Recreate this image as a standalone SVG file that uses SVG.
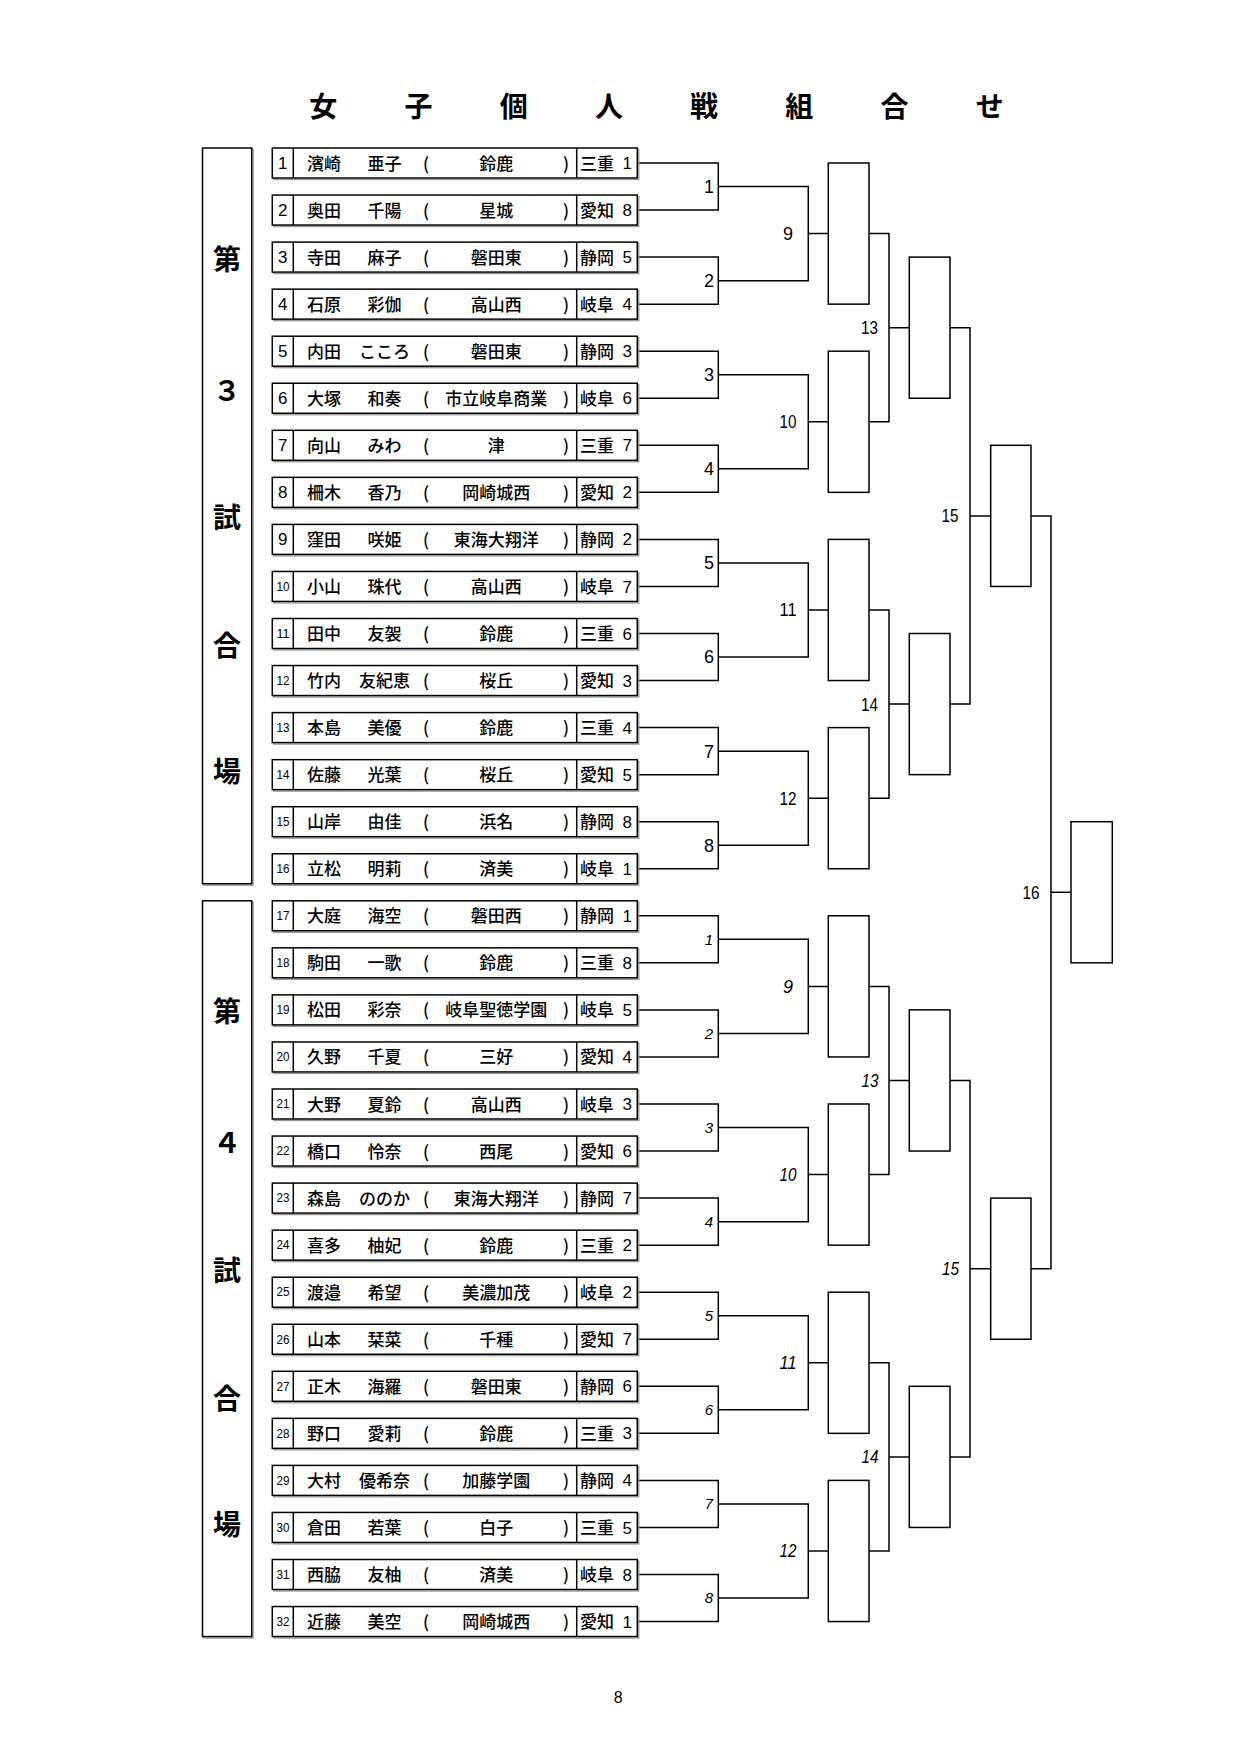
<svg xmlns="http://www.w3.org/2000/svg" xmlns:xlink="http://www.w3.org/1999/xlink" width="1240" height="1753" viewBox="0 0 1240 1753">
<style>
.rb{fill:#fff;stroke:#000;stroke-width:1.5}
.sh{fill:none;stroke:#999;stroke-width:1.3}
.ln{fill:none;stroke:#000;stroke-width:1.5}
.jp{font-family:"Noto Sans CJK JP","Noto Sans CJK SC",sans-serif;font-size:17px;font-weight:500;text-anchor:middle;fill:#000}
.d{font-family:"Liberation Sans",Arial,sans-serif;font-size:17px;fill:#000}
.nn{font-family:"Liberation Sans",Arial,sans-serif;font-size:17px;text-anchor:middle;fill:#000}
.ns{font-size:12px}
.sd{text-anchor:end}
.lb{font-family:"Liberation Sans",Arial,sans-serif;font-size:18px;text-anchor:middle;fill:#000}
.it{font-style:italic}
.s15{font-size:15px}
.ttl{font-family:"Noto Sans CJK JP","Noto Sans CJK SC",sans-serif;font-size:28px;font-weight:bold;text-anchor:middle;fill:#000}
.side{font-family:"Noto Sans CJK JP","Noto Sans CJK SC",sans-serif;font-size:28px;font-weight:bold;text-anchor:middle;fill:#000}
</style>
<defs>
<g id="frame"><rect class="sh" x="273.8" y="1.5" width="365" height="30"/><rect class="rb" x="272.3" y="0" width="365" height="30"/><path class="ln" d="M293.3 0V30M576.7 0V30"/></g>
</defs>
<rect width="1240" height="1753" fill="#fff"/>
<g id="title">
<text class="ttl" x="323.3" y="116.6">女</text><text class="ttl" x="418.5" y="116.6">子</text><text class="ttl" x="513.7" y="116.6">個</text><text class="ttl" x="608.9" y="116.6">人</text><text class="ttl" x="704.1" y="116.6">戦</text><text class="ttl" x="799.3" y="116.6">組</text><text class="ttl" x="894.5" y="116.6">合</text><text class="ttl" x="989.7" y="116.6">せ</text>
</g>
<g id="venue3">
<rect class="sh" x="204" y="149.5" width="49.2" height="735.75"/>
<rect class="rb" x="202.5" y="148" width="49.2" height="735.75"/>
<text class="side" x="227" y="269.6">第</text><text class="side" x="227" y="400.6">３</text><text class="side" x="227" y="528.2">試</text><text class="side" x="227" y="655.8">合</text><text class="side" x="227" y="782.4">場</text>
</g>
<g id="venue4">
<rect class="sh" x="204" y="902.3" width="49.2" height="735.75"/>
<rect class="rb" x="202.5" y="900.8" width="49.2" height="735.75"/>
<text class="side" x="227" y="1022.4">第</text><text class="side" x="227" y="1153.4">４</text><text class="side" x="227" y="1281">試</text><text class="side" x="227" y="1408.6">合</text><text class="side" x="227" y="1535.2">場</text>
</g>
<g id="connectors" class="ln">
<path d="M637.3 163H718.3V210.05H637.3M637.3 257.1H718.3V304.15H637.3M637.3 351.2H718.3V398.25H637.3M637.3 445.3H718.3V492.35H637.3M637.3 539.4H718.3V586.45H637.3M637.3 633.5H718.3V680.55H637.3M637.3 727.6H718.3V774.65H637.3M637.3 821.7H718.3V868.75H637.3M637.3 915.8H718.3V962.85H637.3M637.3 1009.9H718.3V1056.95H637.3M637.3 1104H718.3V1151.05H637.3M637.3 1198.1H718.3V1245.15H637.3M637.3 1292.2H718.3V1339.25H637.3M637.3 1386.3H718.3V1433.35H637.3M637.3 1480.4H718.3V1527.45H637.3M637.3 1574.5H718.3V1621.55H637.3"/>
<path d="M718.3 186.53H808.3V280.63H718.3M808.3 233.58H828.3M718.3 374.73H808.3V468.83H718.3M808.3 421.78H828.3M718.3 562.93H808.3V657.03H718.3M808.3 609.98H828.3M718.3 751.13H808.3V845.23H718.3M808.3 798.18H828.3M718.3 939.33H808.3V1033.43H718.3M808.3 986.38H828.3M718.3 1127.53H808.3V1221.63H718.3M808.3 1174.58H828.3M718.3 1315.73H808.3V1409.83H718.3M808.3 1362.78H828.3M718.3 1503.93H808.3V1598.03H718.3M808.3 1550.98H828.3"/>
<path d="M869 233.58H889V421.78H869M889 327.68H909.3M869 609.98H889V798.18H869M889 704.08H909.3M869 986.38H889V1174.58H869M889 1080.48H909.3M869 1362.78H889V1550.98H869M889 1456.88H909.3"/>
<path d="M950 327.68H970V704.08H950M970 515.88H990.7M950 1080.48H970V1456.88H950M970 1268.68H990.7"/>
<path d="M1031 515.88H1051V1268.68H1031M1051 892.28H1071"/>
</g>
<g id="boxes3">
<g id="a-m9"><rect class="rb" x="828.3" y="163" width="40.7" height="141.15"/></g>
<g id="a-m10"><rect class="rb" x="828.3" y="351.2" width="40.7" height="141.15"/></g>
<g id="a-m11"><rect class="rb" x="828.3" y="539.4" width="40.7" height="141.15"/></g>
<g id="a-m12"><rect class="rb" x="828.3" y="727.6" width="40.7" height="141.15"/></g>
<g id="a-m13"><rect class="rb" x="909.3" y="257.1" width="40.7" height="141.15"/></g>
<g id="a-m14"><rect class="rb" x="909.3" y="633.5" width="40.7" height="141.15"/></g>
<g id="a-m15"><rect class="rb" x="990.7" y="445.3" width="40.3" height="141.15"/></g>
<g id="m16"><rect class="rb" x="1071" y="821.7" width="41.3" height="141.15"/></g>
</g>
<g id="boxes4">
<g id="b-m9"><rect class="rb" x="828.3" y="915.8" width="40.7" height="141.15"/></g>
<g id="b-m10"><rect class="rb" x="828.3" y="1104" width="40.7" height="141.15"/></g>
<g id="b-m11"><rect class="rb" x="828.3" y="1292.2" width="40.7" height="141.15"/></g>
<g id="b-m12"><rect class="rb" x="828.3" y="1480.4" width="40.7" height="141.15"/></g>
<g id="b-m13"><rect class="rb" x="909.3" y="1009.9" width="40.7" height="141.15"/></g>
<g id="b-m14"><rect class="rb" x="909.3" y="1386.3" width="40.7" height="141.15"/></g>
<g id="b-m15"><rect class="rb" x="990.7" y="1198.1" width="40.3" height="141.15"/></g>
</g>
<g id="labels3" class="lb">
<text x="709" y="192.9">1</text><text x="709" y="287">2</text><text x="709" y="381.1">3</text><text x="709" y="475.2">4</text><text x="709" y="569.3">5</text><text x="709" y="663.4">6</text><text x="709" y="757.5">7</text><text x="709" y="851.6">8</text>
<text x="788" y="240">9</text><text x="788" y="428.2" textLength="17" lengthAdjust="spacingAndGlyphs">10</text><text x="788" y="616.4" textLength="17" lengthAdjust="spacingAndGlyphs">11</text><text x="788" y="804.6" textLength="17" lengthAdjust="spacingAndGlyphs">12</text>
<text x="869.5" y="334.1" textLength="17" lengthAdjust="spacingAndGlyphs">13</text><text x="869.5" y="710.5" textLength="17" lengthAdjust="spacingAndGlyphs">14</text>
<text x="950" y="522.3" textLength="17" lengthAdjust="spacingAndGlyphs">15</text>
<text x="1031" y="898.7" textLength="17" lengthAdjust="spacingAndGlyphs">16</text>
</g>
<g id="labels4" class="lb it">
<text class="s15" x="709" y="944.7">1</text><text class="s15" x="709" y="1038.8">2</text><text class="s15" x="709" y="1132.9">3</text><text class="s15" x="709" y="1227">4</text><text class="s15" x="709" y="1321.1">5</text><text class="s15" x="709" y="1415.2">6</text><text class="s15" x="709" y="1509.3">7</text><text class="s15" x="709" y="1603.4">8</text>
<text x="788" y="992.8">9</text><text x="788" y="1181" textLength="17" lengthAdjust="spacingAndGlyphs">10</text><text x="788" y="1369.2" textLength="17" lengthAdjust="spacingAndGlyphs">11</text><text x="788" y="1557.4" textLength="17" lengthAdjust="spacingAndGlyphs">12</text>
<text x="870" y="1086.9" textLength="17" lengthAdjust="spacingAndGlyphs">13</text><text x="870" y="1463.3" textLength="17" lengthAdjust="spacingAndGlyphs">14</text>
<text x="950.5" y="1275.1" textLength="17" lengthAdjust="spacingAndGlyphs">15</text>
</g>
<g id="players">
<g id="p1" transform="translate(0 148)"><use xlink:href="#frame"/><text class="nn" x="282.8" y="21.1">1</text><text class="jp" y="21.5"><tspan x="324">濱崎</tspan><tspan x="384.5">亜子</tspan><tspan x="426">(</tspan><tspan x="496.3">鈴鹿</tspan><tspan x="566">)</tspan><tspan x="597">三重</tspan></text><text class="d sd" x="632" y="21.1">1</text></g>
<g id="p2" transform="translate(0 195.05)"><use xlink:href="#frame"/><text class="nn" x="282.8" y="21.1">2</text><text class="jp" y="21.5"><tspan x="324">奥田</tspan><tspan x="384.5">千陽</tspan><tspan x="426">(</tspan><tspan x="496.3">星城</tspan><tspan x="566">)</tspan><tspan x="597">愛知</tspan></text><text class="d sd" x="632" y="21.1">8</text></g>
<g id="p3" transform="translate(0 242.1)"><use xlink:href="#frame"/><text class="nn" x="282.8" y="21.1">3</text><text class="jp" y="21.5"><tspan x="324">寺田</tspan><tspan x="384.5">麻子</tspan><tspan x="426">(</tspan><tspan x="496.3">磐田東</tspan><tspan x="566">)</tspan><tspan x="597">静岡</tspan></text><text class="d sd" x="632" y="21.1">5</text></g>
<g id="p4" transform="translate(0 289.15)"><use xlink:href="#frame"/><text class="nn" x="282.8" y="21.1">4</text><text class="jp" y="21.5"><tspan x="324">石原</tspan><tspan x="384.5">彩伽</tspan><tspan x="426">(</tspan><tspan x="496.3">高山西</tspan><tspan x="566">)</tspan><tspan x="597">岐阜</tspan></text><text class="d sd" x="632" y="21.1">4</text></g>
<g id="p5" transform="translate(0 336.2)"><use xlink:href="#frame"/><text class="nn" x="282.8" y="21.1">5</text><text class="jp" y="21.5"><tspan x="324">内田</tspan><tspan x="384.5">こころ</tspan><tspan x="426">(</tspan><tspan x="496.3">磐田東</tspan><tspan x="566">)</tspan><tspan x="597">静岡</tspan></text><text class="d sd" x="632" y="21.1">3</text></g>
<g id="p6" transform="translate(0 383.25)"><use xlink:href="#frame"/><text class="nn" x="282.8" y="21.1">6</text><text class="jp" y="21.5"><tspan x="324">大塚</tspan><tspan x="384.5">和奏</tspan><tspan x="426">(</tspan><tspan x="496.3">市立岐阜商業</tspan><tspan x="566">)</tspan><tspan x="597">岐阜</tspan></text><text class="d sd" x="632" y="21.1">6</text></g>
<g id="p7" transform="translate(0 430.3)"><use xlink:href="#frame"/><text class="nn" x="282.8" y="21.1">7</text><text class="jp" y="21.5"><tspan x="324">向山</tspan><tspan x="384.5">みわ</tspan><tspan x="426">(</tspan><tspan x="496.3">津</tspan><tspan x="566">)</tspan><tspan x="597">三重</tspan></text><text class="d sd" x="632" y="21.1">7</text></g>
<g id="p8" transform="translate(0 477.35)"><use xlink:href="#frame"/><text class="nn" x="282.8" y="21.1">8</text><text class="jp" y="21.5"><tspan x="324">柵木</tspan><tspan x="384.5">香乃</tspan><tspan x="426">(</tspan><tspan x="496.3">岡崎城西</tspan><tspan x="566">)</tspan><tspan x="597">愛知</tspan></text><text class="d sd" x="632" y="21.1">2</text></g>
<g id="p9" transform="translate(0 524.4)"><use xlink:href="#frame"/><text class="nn" x="282.8" y="21.1">9</text><text class="jp" y="21.5"><tspan x="324">窪田</tspan><tspan x="384.5">咲姫</tspan><tspan x="426">(</tspan><tspan x="496.3">東海大翔洋</tspan><tspan x="566">)</tspan><tspan x="597">静岡</tspan></text><text class="d sd" x="632" y="21.1">2</text></g>
<g id="p10" transform="translate(0 571.45)"><use xlink:href="#frame"/><text class="nn ns" x="283" y="19.3" textLength="13" lengthAdjust="spacingAndGlyphs">10</text><text class="jp" y="21.5"><tspan x="324">小山</tspan><tspan x="384.5">珠代</tspan><tspan x="426">(</tspan><tspan x="496.3">高山西</tspan><tspan x="566">)</tspan><tspan x="597">岐阜</tspan></text><text class="d sd" x="632" y="21.1">7</text></g>
<g id="p11" transform="translate(0 618.5)"><use xlink:href="#frame"/><text class="nn ns" x="283" y="19.3" textLength="13" lengthAdjust="spacingAndGlyphs">11</text><text class="jp" y="21.5"><tspan x="324">田中</tspan><tspan x="384.5">友袈</tspan><tspan x="426">(</tspan><tspan x="496.3">鈴鹿</tspan><tspan x="566">)</tspan><tspan x="597">三重</tspan></text><text class="d sd" x="632" y="21.1">6</text></g>
<g id="p12" transform="translate(0 665.55)"><use xlink:href="#frame"/><text class="nn ns" x="283" y="19.3" textLength="13" lengthAdjust="spacingAndGlyphs">12</text><text class="jp" y="21.5"><tspan x="324">竹内</tspan><tspan x="384.5">友紀恵</tspan><tspan x="426">(</tspan><tspan x="496.3">桜丘</tspan><tspan x="566">)</tspan><tspan x="597">愛知</tspan></text><text class="d sd" x="632" y="21.1">3</text></g>
<g id="p13" transform="translate(0 712.6)"><use xlink:href="#frame"/><text class="nn ns" x="283" y="19.3" textLength="13" lengthAdjust="spacingAndGlyphs">13</text><text class="jp" y="21.5"><tspan x="324">本島</tspan><tspan x="384.5">美優</tspan><tspan x="426">(</tspan><tspan x="496.3">鈴鹿</tspan><tspan x="566">)</tspan><tspan x="597">三重</tspan></text><text class="d sd" x="632" y="21.1">4</text></g>
<g id="p14" transform="translate(0 759.65)"><use xlink:href="#frame"/><text class="nn ns" x="283" y="19.3" textLength="13" lengthAdjust="spacingAndGlyphs">14</text><text class="jp" y="21.5"><tspan x="324">佐藤</tspan><tspan x="384.5">光葉</tspan><tspan x="426">(</tspan><tspan x="496.3">桜丘</tspan><tspan x="566">)</tspan><tspan x="597">愛知</tspan></text><text class="d sd" x="632" y="21.1">5</text></g>
<g id="p15" transform="translate(0 806.7)"><use xlink:href="#frame"/><text class="nn ns" x="283" y="19.3" textLength="13" lengthAdjust="spacingAndGlyphs">15</text><text class="jp" y="21.5"><tspan x="324">山岸</tspan><tspan x="384.5">由佳</tspan><tspan x="426">(</tspan><tspan x="496.3">浜名</tspan><tspan x="566">)</tspan><tspan x="597">静岡</tspan></text><text class="d sd" x="632" y="21.1">8</text></g>
<g id="p16" transform="translate(0 853.75)"><use xlink:href="#frame"/><text class="nn ns" x="283" y="19.3" textLength="13" lengthAdjust="spacingAndGlyphs">16</text><text class="jp" y="21.5"><tspan x="324">立松</tspan><tspan x="384.5">明莉</tspan><tspan x="426">(</tspan><tspan x="496.3">済美</tspan><tspan x="566">)</tspan><tspan x="597">岐阜</tspan></text><text class="d sd" x="632" y="21.1">1</text></g>
<g id="p17" transform="translate(0 900.8)"><use xlink:href="#frame"/><text class="nn ns" x="283" y="19.3" textLength="13" lengthAdjust="spacingAndGlyphs">17</text><text class="jp" y="21.5"><tspan x="324">大庭</tspan><tspan x="384.5">海空</tspan><tspan x="426">(</tspan><tspan x="496.3">磐田西</tspan><tspan x="566">)</tspan><tspan x="597">静岡</tspan></text><text class="d sd" x="632" y="21.1">1</text></g>
<g id="p18" transform="translate(0 947.85)"><use xlink:href="#frame"/><text class="nn ns" x="283" y="19.3" textLength="13" lengthAdjust="spacingAndGlyphs">18</text><text class="jp" y="21.5"><tspan x="324">駒田</tspan><tspan x="384.5">一歌</tspan><tspan x="426">(</tspan><tspan x="496.3">鈴鹿</tspan><tspan x="566">)</tspan><tspan x="597">三重</tspan></text><text class="d sd" x="632" y="21.1">8</text></g>
<g id="p19" transform="translate(0 994.9)"><use xlink:href="#frame"/><text class="nn ns" x="283" y="19.3" textLength="13" lengthAdjust="spacingAndGlyphs">19</text><text class="jp" y="21.5"><tspan x="324">松田</tspan><tspan x="384.5">彩奈</tspan><tspan x="426">(</tspan><tspan x="496.3">岐阜聖徳学園</tspan><tspan x="566">)</tspan><tspan x="597">岐阜</tspan></text><text class="d sd" x="632" y="21.1">5</text></g>
<g id="p20" transform="translate(0 1041.95)"><use xlink:href="#frame"/><text class="nn ns" x="283" y="19.3" textLength="13" lengthAdjust="spacingAndGlyphs">20</text><text class="jp" y="21.5"><tspan x="324">久野</tspan><tspan x="384.5">千夏</tspan><tspan x="426">(</tspan><tspan x="496.3">三好</tspan><tspan x="566">)</tspan><tspan x="597">愛知</tspan></text><text class="d sd" x="632" y="21.1">4</text></g>
<g id="p21" transform="translate(0 1089)"><use xlink:href="#frame"/><text class="nn ns" x="283" y="19.3" textLength="13" lengthAdjust="spacingAndGlyphs">21</text><text class="jp" y="21.5"><tspan x="324">大野</tspan><tspan x="384.5">夏鈴</tspan><tspan x="426">(</tspan><tspan x="496.3">高山西</tspan><tspan x="566">)</tspan><tspan x="597">岐阜</tspan></text><text class="d sd" x="632" y="21.1">3</text></g>
<g id="p22" transform="translate(0 1136.05)"><use xlink:href="#frame"/><text class="nn ns" x="283" y="19.3" textLength="13" lengthAdjust="spacingAndGlyphs">22</text><text class="jp" y="21.5"><tspan x="324">橋口</tspan><tspan x="384.5">怜奈</tspan><tspan x="426">(</tspan><tspan x="496.3">西尾</tspan><tspan x="566">)</tspan><tspan x="597">愛知</tspan></text><text class="d sd" x="632" y="21.1">6</text></g>
<g id="p23" transform="translate(0 1183.1)"><use xlink:href="#frame"/><text class="nn ns" x="283" y="19.3" textLength="13" lengthAdjust="spacingAndGlyphs">23</text><text class="jp" y="21.5"><tspan x="324">森島</tspan><tspan x="384.5">ののか</tspan><tspan x="426">(</tspan><tspan x="496.3">東海大翔洋</tspan><tspan x="566">)</tspan><tspan x="597">静岡</tspan></text><text class="d sd" x="632" y="21.1">7</text></g>
<g id="p24" transform="translate(0 1230.15)"><use xlink:href="#frame"/><text class="nn ns" x="283" y="19.3" textLength="13" lengthAdjust="spacingAndGlyphs">24</text><text class="jp" y="21.5"><tspan x="324">喜多</tspan><tspan x="384.5">柚妃</tspan><tspan x="426">(</tspan><tspan x="496.3">鈴鹿</tspan><tspan x="566">)</tspan><tspan x="597">三重</tspan></text><text class="d sd" x="632" y="21.1">2</text></g>
<g id="p25" transform="translate(0 1277.2)"><use xlink:href="#frame"/><text class="nn ns" x="283" y="19.3" textLength="13" lengthAdjust="spacingAndGlyphs">25</text><text class="jp" y="21.5"><tspan x="324">渡邉</tspan><tspan x="384.5">希望</tspan><tspan x="426">(</tspan><tspan x="496.3">美濃加茂</tspan><tspan x="566">)</tspan><tspan x="597">岐阜</tspan></text><text class="d sd" x="632" y="21.1">2</text></g>
<g id="p26" transform="translate(0 1324.25)"><use xlink:href="#frame"/><text class="nn ns" x="283" y="19.3" textLength="13" lengthAdjust="spacingAndGlyphs">26</text><text class="jp" y="21.5"><tspan x="324">山本</tspan><tspan x="384.5">栞菜</tspan><tspan x="426">(</tspan><tspan x="496.3">千種</tspan><tspan x="566">)</tspan><tspan x="597">愛知</tspan></text><text class="d sd" x="632" y="21.1">7</text></g>
<g id="p27" transform="translate(0 1371.3)"><use xlink:href="#frame"/><text class="nn ns" x="283" y="19.3" textLength="13" lengthAdjust="spacingAndGlyphs">27</text><text class="jp" y="21.5"><tspan x="324">正木</tspan><tspan x="384.5">海羅</tspan><tspan x="426">(</tspan><tspan x="496.3">磐田東</tspan><tspan x="566">)</tspan><tspan x="597">静岡</tspan></text><text class="d sd" x="632" y="21.1">6</text></g>
<g id="p28" transform="translate(0 1418.35)"><use xlink:href="#frame"/><text class="nn ns" x="283" y="19.3" textLength="13" lengthAdjust="spacingAndGlyphs">28</text><text class="jp" y="21.5"><tspan x="324">野口</tspan><tspan x="384.5">愛莉</tspan><tspan x="426">(</tspan><tspan x="496.3">鈴鹿</tspan><tspan x="566">)</tspan><tspan x="597">三重</tspan></text><text class="d sd" x="632" y="21.1">3</text></g>
<g id="p29" transform="translate(0 1465.4)"><use xlink:href="#frame"/><text class="nn ns" x="283" y="19.3" textLength="13" lengthAdjust="spacingAndGlyphs">29</text><text class="jp" y="21.5"><tspan x="324">大村</tspan><tspan x="384.5">優希奈</tspan><tspan x="426">(</tspan><tspan x="496.3">加藤学園</tspan><tspan x="566">)</tspan><tspan x="597">静岡</tspan></text><text class="d sd" x="632" y="21.1">4</text></g>
<g id="p30" transform="translate(0 1512.45)"><use xlink:href="#frame"/><text class="nn ns" x="283" y="19.3" textLength="13" lengthAdjust="spacingAndGlyphs">30</text><text class="jp" y="21.5"><tspan x="324">倉田</tspan><tspan x="384.5">若葉</tspan><tspan x="426">(</tspan><tspan x="496.3">白子</tspan><tspan x="566">)</tspan><tspan x="597">三重</tspan></text><text class="d sd" x="632" y="21.1">5</text></g>
<g id="p31" transform="translate(0 1559.5)"><use xlink:href="#frame"/><text class="nn ns" x="283" y="19.3" textLength="13" lengthAdjust="spacingAndGlyphs">31</text><text class="jp" y="21.5"><tspan x="324">西脇</tspan><tspan x="384.5">友柚</tspan><tspan x="426">(</tspan><tspan x="496.3">済美</tspan><tspan x="566">)</tspan><tspan x="597">岐阜</tspan></text><text class="d sd" x="632" y="21.1">8</text></g>
<g id="p32" transform="translate(0 1606.55)"><use xlink:href="#frame"/><text class="nn ns" x="283" y="19.3" textLength="13" lengthAdjust="spacingAndGlyphs">32</text><text class="jp" y="21.5"><tspan x="324">近藤</tspan><tspan x="384.5">美空</tspan><tspan x="426">(</tspan><tspan x="496.3">岡崎城西</tspan><tspan x="566">)</tspan><tspan x="597">愛知</tspan></text><text class="d sd" x="632" y="21.1">1</text></g>
</g>
<text id="page" class="nn" x="618.3" y="1703" style="font-size:16px">8</text>
</svg>
